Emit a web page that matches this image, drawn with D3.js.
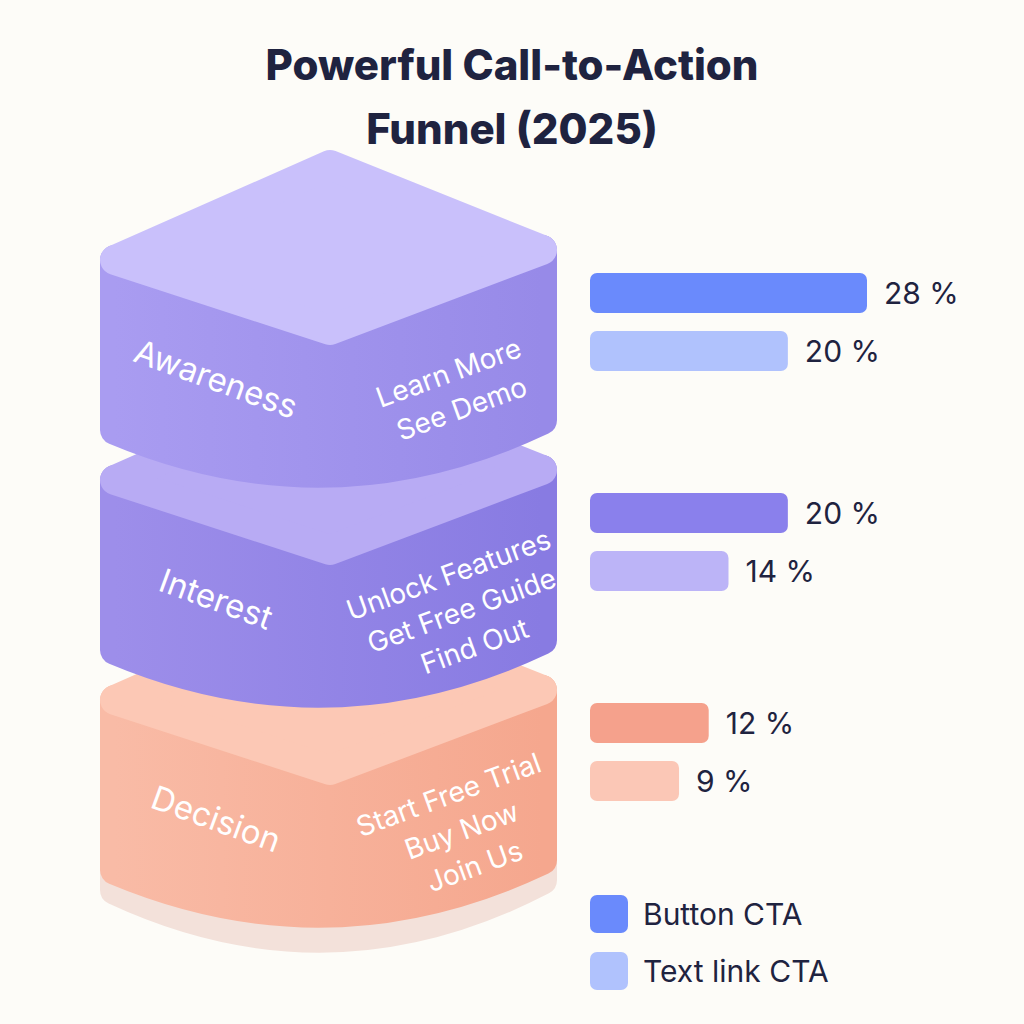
<!DOCTYPE html>
<html><head><meta charset="utf-8">
<script src="https://cdn.jsdelivr.net/npm/d3@7"></script>
<style>body{margin:0;background:#fdfcf8}</style>
</head><body><div id="chart"></div>
<script>
const stages = ["Awareness", "Interest", "Decision"];
const ctas = [["Learn More", "See Demo"], ["Unlock Features", "Get Free Guide", "Find Out"], ["Start Free Trial", "Buy Now", "Join Us"]];
const buttonCTA = [28, 20, 12];
const textCTA = [20, 14, 9];
const seriesNames = ["Button CTA", "Text link CTA"];

const topCol = ["#c9c0fb", "#b8abf4", "#fcc8b5"];
const frontCol = [["#a99cf1", "#978ae8"], ["#9d8eea", "#887be2"], ["#f9bba6", "#f5a78e"]];
const barCol = [["#6a8afc", "#b0c2fd"], ["#8a80ec", "#bcb4f7"], ["#f5a18c", "#fbc7b6"]];

const svg = d3.select("#chart").append("svg").attr("width", 1024).attr("height", 1024)
  .style("font-family", "Inter, 'Noto Sans', sans-serif");
svg.append("rect").attr("width", 1024).attr("height", 1024).attr("fill", "#fdfcf8");

svg.append("text").attr("x", 512).attr("y", 80).attr("text-anchor", "middle")
  .attr("font-size", 42).attr("font-weight", 800).attr("fill", "#1f2340")
  .selectAll("tspan").data(["Powerful Call-to-Action", "Funnel (2025)"]).join("tspan")
  .attr("x", 512).attr("dy", (d, i) => i ? 64 : 0).text(d => d);

const defs = svg.append("defs");
frontCol.forEach((c, i) => {
  const g = defs.append("linearGradient").attr("id", "fg" + i).attr("x1", 0).attr("x2", 1);
  g.append("stop").attr("offset", 0).attr("stop-color", c[0]);
  g.append("stop").attr("offset", 1).attr("stop-color", c[1]);
});

const blockTop = [150, 370, 590];
const L = 115, R = 542, C = 330, H = 170;
const line = d3.line();

// shadow under bottom block
svg.append("path")
  .attr("d", `M${L},840L${R},830L${R},880Q${C},990 ${L},890Z`)
  .attr("fill", "#f3e1da").attr("stroke", "#f3e1da").attr("stroke-width", 30).attr("stroke-linejoin", "round");

[2, 1, 0].forEach(i => {
  const y0 = blockTop[i];
  const g = svg.append("g");
  const topPts = [[C, y0 + 15], [R, y0 + 100], [C, y0 + 180], [L, y0 + 110]];
  const frontD = "M" + L + "," + (y0 + 110) + "L" + C + "," + (y0 + 180) + "L" + R + "," + (y0 + 100) +
    "L" + R + "," + (y0 + 100 + H) + "Q" + C + "," + (y0 + 200 + H) + " " + L + "," + (y0 + 110 + H) + "Z";
  g.append("path").attr("d", frontD).attr("fill", `url(#fg${i})`)
    .attr("stroke", `url(#fg${i})`).attr("stroke-width", 30).attr("stroke-linejoin", "round");
  g.append("path").attr("d", line(topPts) + "Z").attr("fill", topCol[i])
    .attr("stroke", topCol[i]).attr("stroke-width", 30).attr("stroke-linejoin", "round");
  g.append("text").attr("transform", `translate(212,${y0 + 240}) rotate(20)`)
    .attr("text-anchor", "middle").attr("font-size", 33).attr("fill", "#fff").text(stages[i]);
  const n = ctas[i].length;
  g.append("text").attr("transform", `translate(452,${y0 + 232 - (n - 2) * 18}) rotate(-20)`)
    .attr("text-anchor", "middle").attr("font-size", 28).attr("fill", "#fff")
    .selectAll("tspan").data(ctas[i]).join("tspan")
    .attr("x", 0).attr("dy", (d, j) => j ? 38 : 0).text(d => d);
});

const x = d3.scaleLinear().domain([0, 28]).range([0, 277]);
const barY = [293, 513, 723];
stages.forEach((s, i) => {
  [buttonCTA[i], textCTA[i]].forEach((v, k) => {
    const yc = barY[i] + k * 58;
    svg.append("rect").attr("x", 590).attr("y", yc - 20).attr("width", x(v)).attr("height", 40)
      .attr("rx", 7).attr("fill", barCol[i][k]);
    svg.append("text").attr("x", 590 + x(v) + 17).attr("y", yc + 11).attr("font-size", 30)
      .attr("fill", "#1f2340").text(v + " %");
  });
});

seriesNames.forEach((n, k) => {
  const yc = 914 + k * 57;
  svg.append("rect").attr("x", 590).attr("y", yc - 19).attr("width", 38).attr("height", 38)
    .attr("rx", 7).attr("fill", barCol[0][k]);
  svg.append("text").attr("x", 643).attr("y", yc + 11).attr("font-size", 30)
    .attr("fill", "#1f2340").text(n);
});
</script></body></html>
